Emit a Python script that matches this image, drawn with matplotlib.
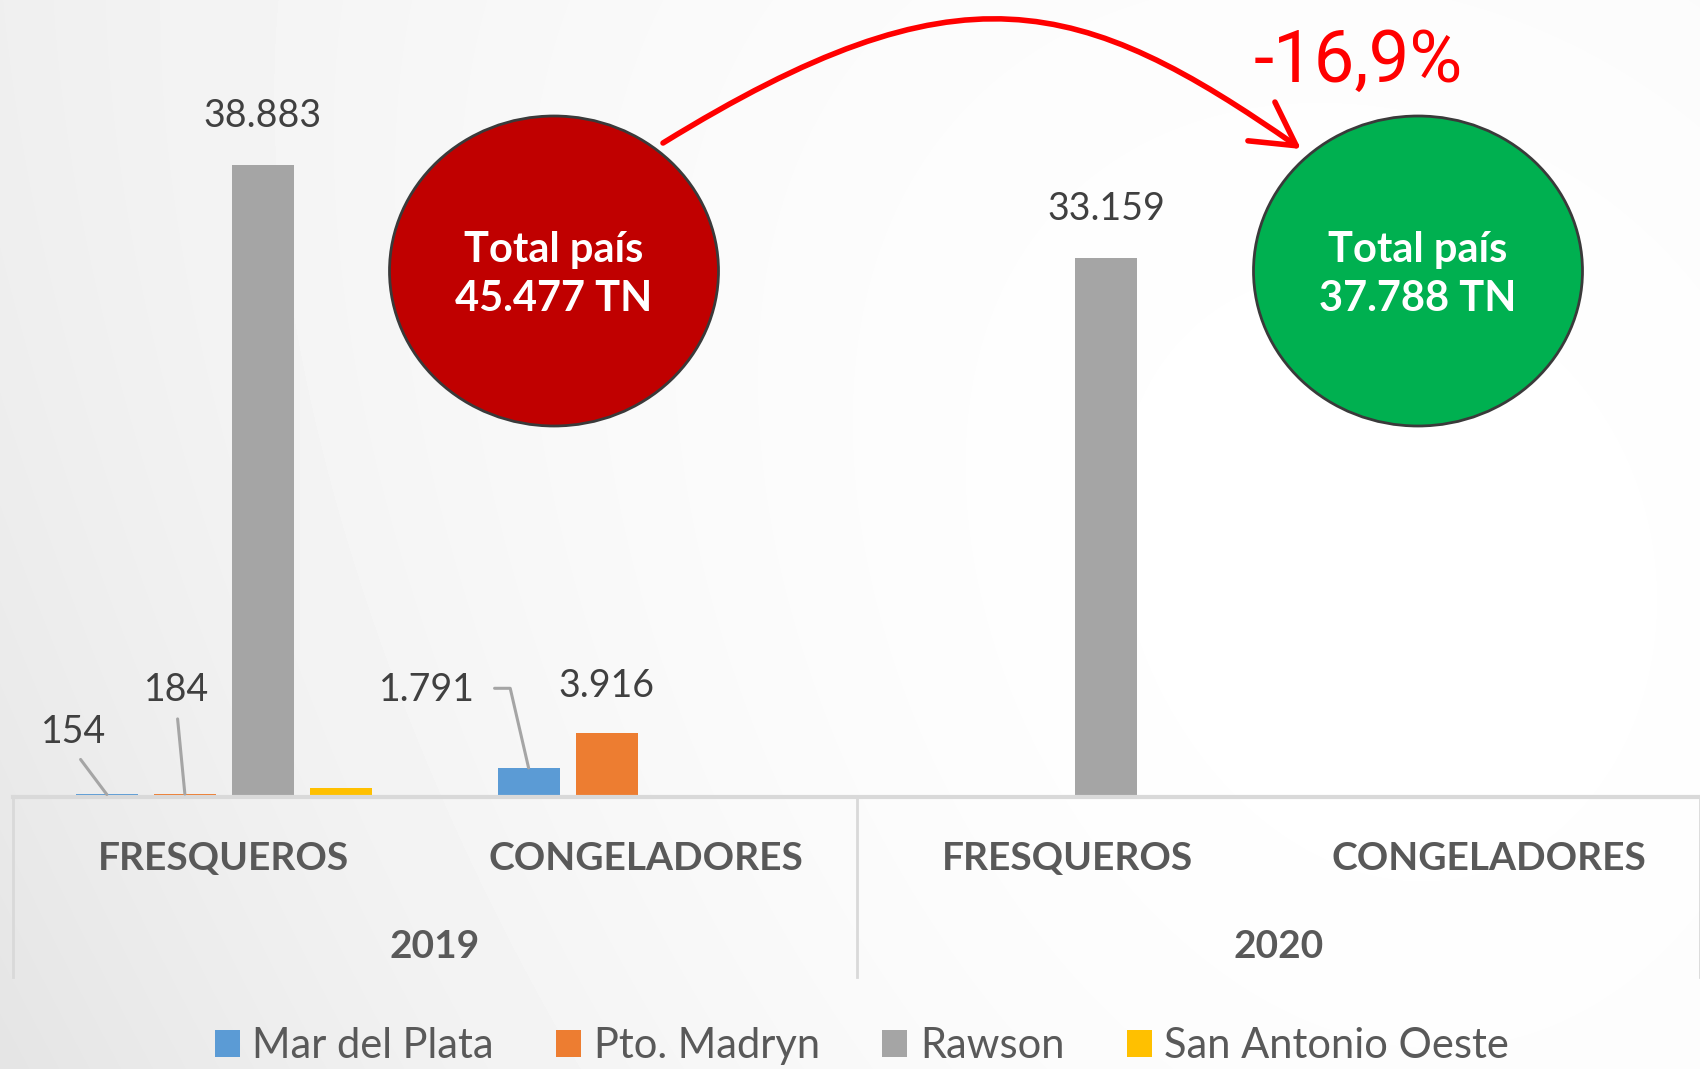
import numpy as np
import matplotlib
matplotlib.use('Agg')
import matplotlib.pyplot as plt
from matplotlib.patches import Ellipse, FancyArrowPatch
from matplotlib.path import Path

plt.rcParams['font.family'] = ['Lato', 'DejaVu Sans']

# datos (toneladas)
categorias = ['FRESQUEROS', 'CONGELADORES', 'FRESQUEROS', 'CONGELADORES']
anios = ['2019', '2020']
puertos = ['Mar del Plata', 'Pto. Madryn', 'Rawson', 'San Antonio Oeste']
colores = ['#5B9BD5', '#ED7D31', '#A5A5A5', '#FFC000']
mar_del_plata = [154, 1791, 0, 0]
pto_madryn = [184, 3916, 0, 0]
rawson = [38883, 0, 33159, 0]
san_antonio = [549, 0, 0, 0]
totales = [45477, 37788]
variacion = '-16,9%'

series = [mar_del_plata, pto_madryn, rawson, san_antonio]

W, H = 1700, 1069
fig = plt.figure(figsize=(W / 100, H / 100), dpi=100)

# fondo degradado gris -> blanco
bg = fig.add_axes([0, 0, 1, 1], zorder=0)
yy, xx = np.mgrid[0:H, 0:W]
d = np.hypot(xx - 1300, yy - 600)
f = 16 * (d / 1432) ** 2 + 12 * (yy / H) * (1 - xx / W) ** 2
g = np.clip(255 - f, 0, 255) / 255
bg.imshow(g, cmap='gray', vmin=0, vmax=1, extent=(0, W, H, 0), aspect='auto')
bg.axis('off')

# grafico de barras
base = 797
ax = fig.add_axes([13 / W, 1 - base / H, 1 - 13 / W, base / H], zorder=1)
ax.patch.set_alpha(0)
ax.set_xlim(-0.5, 3.5)
ax.set_ylim(0, base / (632.2 / 38883))

x = np.arange(len(categorias))
paso = 0.185
ancho = 0.147
barras = []
for i, (serie, nombre, color) in enumerate(zip(series, puertos, colores)):
    b = ax.bar(x + (i - 1.5) * paso, serie, ancho, color=color, label=nombre, zorder=2)
    barras.append(b)

for s in ['top', 'right', 'left']:
    ax.spines[s].set_visible(False)
ax.spines['bottom'].set_color('#D9D9D9')
ax.spines['bottom'].set_linewidth(3)
ax.spines['bottom'].set_zorder(3)
ax.set_yticks([])
ax.set_xticks([])


def fmt(v):
    return f'{v:,}'.replace(',', '.')


color_txt = '#404040'
gris_linea = '#A5A5A5'

# etiquetas de valores
etiquetas = [
    # (serie, categoria, dx, dy, guia)
    (0, 0, -24, 45, 'recta'),
    (1, 0, -6, 75, 'recta'),
    (2, 0, 0, 35, None),
    (0, 1, -73, 56, 'codo'),
    (1, 1, 0, 34, None),
    (2, 2, 0, 35, None),
]
for si, ci, dx, dy, guia in etiquetas:
    valor = series[si][ci]
    xb = x[ci] + (si - 1.5) * paso
    props = None
    if guia == 'recta':
        props = dict(arrowstyle='-', color=gris_linea, lw=2.2, relpos=(0.5, 0),
                     shrinkA=6, shrinkB=0)
    elif guia == 'codo':
        props = dict(arrowstyle='-', color=gris_linea, lw=2.2, relpos=(1, 0.55),
                     shrinkA=12, shrinkB=0,
                     connectionstyle='angle,angleA=0,angleB=103,rad=0')
    ax.annotate(fmt(valor), xy=(xb, valor), xytext=(dx, dy), textcoords='offset points',
                ha='center', va='center', fontsize=27, color=color_txt,
                arrowprops=props, zorder=4)

# etiquetas de categorias y años
color_cat = '#595959'
for i, cat in enumerate(categorias):
    ax.annotate(cat, xy=(x[i], 0), xycoords=('data', 'axes fraction'),
                xytext=(0, -44), textcoords='offset points', ha='center', va='center',
                fontsize=28, fontweight='bold', color=color_cat, annotation_clip=False)
for j, anio in enumerate(anios):
    ax.annotate(anio, xy=(2 * j + 0.5, 0), xycoords=('data', 'axes fraction'),
                xytext=(0, -108), textcoords='offset points', ha='center', va='center',
                fontsize=28, fontweight='bold', color=color_cat, annotation_clip=False)
for xv in [-0.5, 1.5, 3.5]:
    ax.plot([xv, xv], [0, -0.226], transform=ax.get_xaxis_transform(),
            color='#D9D9D9', lw=2, clip_on=False, zorder=3)

# capa superior: circulos y flecha
ov = fig.add_axes([0, 0, 1, 1], zorder=3)
ov.set_xlim(0, W)
ov.set_ylim(H, 0)
ov.axis('off')
ov.patch.set_alpha(0)

circulos = [((554, 271), '#C00000'), ((1418, 271), '#00B050')]
for (cx, cy), col in circulos:
    ov.add_patch(Ellipse((cx, cy), 329, 310, facecolor=col, edgecolor='#3A3A3A', lw=2))
for ((cx, cy), col), tot in zip(circulos, totales):
    ov.text(cx, cy - 21, 'Total país', ha='center', va='center', color='white',
            fontsize=30, fontweight='bold')
    ov.text(cx, cy + 28, fmt(tot) + ' TN', ha='center', va='center', color='white',
            fontsize=30, fontweight='bold')

verts = [(663, 143), (960, -40), (1080, -5), (1301, 149)]
codes = [Path.MOVETO, Path.CURVE4, Path.CURVE4, Path.CURVE4]
flecha = FancyArrowPatch(path=Path(verts, codes), arrowstyle='->,head_length=0.9,head_width=0.5',
                         mutation_scale=34, color='#FF0000', lw=4, capstyle='round')
ov.add_patch(flecha)
ov.text(1358, 62, variacion, ha='center', va='center', color='#FF0000',
        fontsize=52, family=['Roboto', 'DejaVu Sans'])

# leyenda
fig.legend(handles=barras, labels=puertos, loc='center', bbox_to_anchor=(862 / W, 23 / H),
           ncol=4, frameon=False, fontsize=30, labelcolor=color_cat,
           handlelength=0.6, handleheight=0.6, handletextpad=0.3, columnspacing=1.5)

fig.savefig('out.png', dpi=100)
